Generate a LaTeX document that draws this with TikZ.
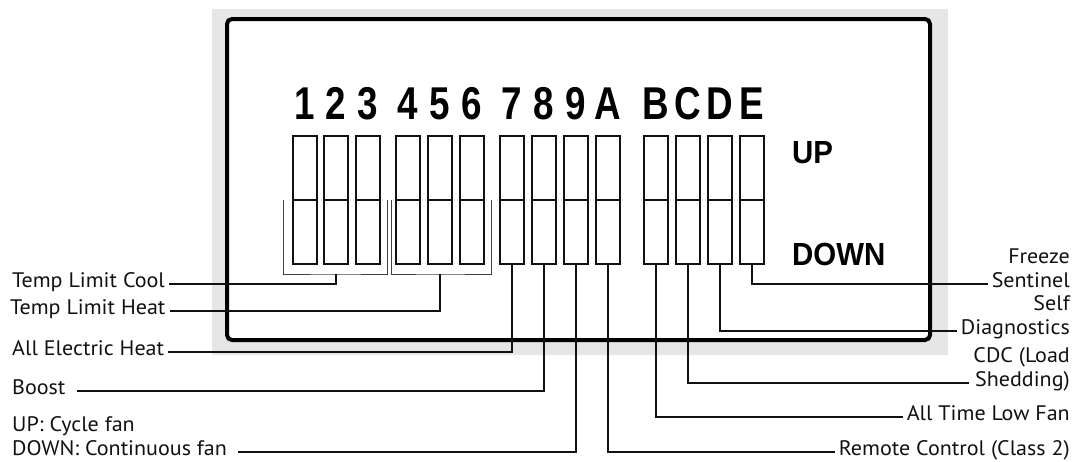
\documentclass[tikz,border=0pt]{standalone}
\usepackage{fontspec}
\setmainfont{PT Sans}[FakeStretch=1.05]
\newfontfamily\digitfont{Liberation Sans}[FakeStretch=0.8]
\newfontfamily\modefont{Liberation Sans}[FakeStretch=0.92]
\usetikzlibrary{positioning,backgrounds}
\definecolor{panel}{HTML}{E6E6E6}
\definecolor{ink}{HTML}{111111}

\begin{document}
\begin{tikzpicture}[x=1pt,y=-1pt,
  font=\fontsize{21}{24}\selectfont,
  sw/.style={rectangle,draw=ink,line width=2pt,minimum width=24pt,
    minimum height=128pt,inner sep=0pt},
  digit/.style={font=\digitfont\bfseries\fontsize{46}{46}\selectfont,inner sep=0pt,anchor=base},
  mode/.style={font=\modefont\bfseries\fontsize{32}{32}\selectfont,inner sep=0pt},
  lbl/.style={inner xsep=4pt,inner ysep=1pt,text depth=5pt,text=ink},
  frame/.style={draw=black,line width=4pt,rounded corners=5pt,fill=white},
  brk/.style={draw=ink!80,line width=1pt},
  lead/.style={draw=ink,line width=1.6pt}]

\useasboundingbox (0,0) rectangle (1075,461);
\fill[panel] (212,9) rectangle (948,355);
\draw[frame] (227,19) rectangle (930,340);

\node[sw] (s1) at (305,200) {};
\node[sw] (s2) at (336,200) {};
\node[sw] (s3) at (368,200) {};
\node[sw] (s4) at (408,200) {};
\node[sw] (s5) at (440,200) {};
\node[sw] (s6) at (472,200) {};
\node[sw] (s7) at (512,200) {};
\node[sw] (s8) at (544,200) {};
\node[sw] (s9) at (576,200) {};
\node[sw] (sA) at (608,200) {};
\node[sw] (sB) at (656,200) {};
\node[sw] (sC) at (688,200) {};
\node[sw] (sD) at (720,200) {};
\node[sw] (sE) at (752,200) {};
\foreach \s in {1,2,3,4,5,6,7,8,9,A,B,C,D,E} {
  \draw[line width=2pt,ink] (s\s.west) -- (s\s.east);
  \node[digit] (d\s) at ([yshift=16pt]s\s.north) {\s};
}

\node[mode,anchor=base west] (up) at (792,163) {UP};
\node[mode,anchor=base west] (down) at (792,265) {DOWN};

\node[lbl,anchor=south west] (tlc) at (8,294) {Temp Limit Cool};
\node[lbl,anchor=south west] (tlh) at (6,321) {Temp Limit Heat};
\node[lbl,anchor=south west] (aeh) at (8,362) {All Electric Heat};
\node[lbl,anchor=south west] (bst) at (8,401) {Boost\kern7pt};
\node[lbl,anchor=south west,align=left] (fan) at (8,462) {UP: Cycle fan\\DOWN: Continuous fan\kern7pt};

\node[lbl,anchor=south east,align=right] (fs) at (1074,294) {Freeze\\Sentinel};
\node[lbl,anchor=south east,align=right] (sd) at (1074,341) {Self\\Diagnostics};
\node[lbl,anchor=south east,align=right] (cdc) at (1074,393) {CDC (Load\\Shedding)};
\node[lbl,anchor=south east] (atlf) at (1074,427) {All Time Low Fan};
\node[lbl,anchor=south east] (rc) at (1074,462) {Remote Control (Class 2)};

\draw[brk] ([xshift=-9pt]s1.west) |- ([yshift=-9pt]s2.south) -| ([xshift=6pt]s3.east);
\draw[brk] ([xshift=-4pt]s4.west) |- ([yshift=-9pt]s5.south) -| ([xshift=6pt]s6.east);

\draw[lead] ([yshift=10pt]tlc.south east) -| ([yshift=-9pt]s2.south);
\draw[lead] ([yshift=10pt]tlh.south east) -| ([yshift=-9pt]s5.south);
\draw[lead] (s7.south) |- ([yshift=10pt]aeh.south east);
\draw[lead] (s8.south) |- ([yshift=10pt]bst.south east);
\draw[lead] (s9.south) |- ([yshift=10pt]fan.south east);
\draw[lead] (sA.south) |- ([yshift=10pt]rc.south west);
\draw[lead] (sB.south) |- ([yshift=10pt]atlf.south west);
\draw[lead] (sC.south) |- ([yshift=10pt]cdc.south west);
\draw[lead] (sD.south) |- ([yshift=10pt]sd.south west);
\draw[lead] (sE.south) |- ([yshift=10pt]fs.south west);
\end{tikzpicture}
\end{document}
